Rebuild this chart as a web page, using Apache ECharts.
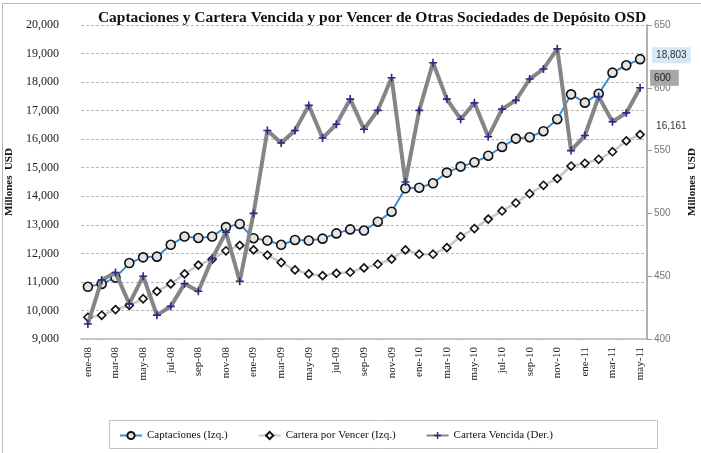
<!DOCTYPE html>
<html>
<head>
<meta charset="utf-8">
<script src="https://cdn.jsdelivr.net/npm/echarts@6/dist/echarts.min.js"></script>
<style>
  html, body { margin: 0; padding: 0; background: #fff; }
  #chart { width: 701px; height: 453px; }
</style>
</head>
<body>
<div id="chart"></div>
<script>
const months = ['ene', 'feb', 'mar', 'abr', 'may', 'jun', 'jul', 'ago', 'sep', 'oct', 'nov', 'dic'];
const years = ['08', '09', '10', '11'];
const categories = [];
years.forEach(y => months.forEach(m => categories.push(m + '-' + y)));
categories.length = 41; // ene-08 .. may-11

const captaciones = [10830, 10930, 11150, 11660, 11860, 11885, 12300, 12590, 12540, 12590, 12920, 13030,
  12530, 12450, 12300, 12470, 12450, 12515, 12700, 12840, 12800, 13110, 13460, 14280,
  14300, 14455, 14830, 15040, 15190, 15420, 15730, 16020, 16070, 16280, 16700, 17570,
  17280, 17590, 18330, 18590, 18803];
const porVencer = [9760, 9830, 10030, 10180, 10410, 10670, 10930, 11280, 11590, 11790, 12090, 12280,
  12120, 11940, 11680, 11420, 11280, 11220, 11300, 11340, 11490, 11620, 11800, 12120,
  11970, 11970, 12200, 12590, 12870, 13200, 13485, 13765, 14090, 14385, 14620, 15060,
  15155, 15295, 15560, 15940, 16161];
const vencida = [412, 447, 453, 428, 450, 419, 426, 444, 438, 464, 485, 446,
  500, 566, 556, 566, 586, 560, 571, 591, 567, 582, 608, 525,
  582, 620, 591, 575, 588, 561, 583, 590, 607, 615, 631, 550,
  562, 593, 573, 580, 600];

const serif = '"Liberation Serif", "Times New Roman", serif';
const sans = '"Liberation Sans", Arial, sans-serif';
const plus = 'path://M4,0H6V4H10V6H6V10H4V6H0V4H4Z';
const fmt = v => Number(v).toLocaleString('en-US');

const chart = echarts.init(document.getElementById('chart'));
chart.setOption({
  animation: false,
  title: {
    text: 'Captaciones y Cartera Vencida y por Vencer de Otras Sociedades de Depósito OSD',
    left: 367, textAlign: 'center', top: 5,
    textStyle: { fontFamily: serif, fontSize: 15.5, fontWeight: 'bold', color: '#111' }
  },
  graphic: [{
    type: 'rect', left: 0, top: 1, silent: true,
    shape: { width: 699, height: 451 },
    style: { fill: 'none', stroke: '#b8b8b8', lineWidth: 1 }
  }, {
    type: 'rect', left: 107, top: 418,
    shape: { width: 548, height: 28 },
    style: { fill: 'none', stroke: '#c4c4c4', lineWidth: 1 }
  }],
  legend: {
    left: 114, top: 425, itemWidth: 22, itemHeight: 9, itemGap: 30,
    textStyle: { fontFamily: serif, fontSize: 11, color: '#111' },
    data: ['Captaciones (Izq.)', 'Cartera por Vencer (Izq.)', 'Cartera Vencida (Der.)']
  },
  grid: { left: 81, right: 54, top: 25, bottom: 114, outerBoundsMode: 'none' },
  xAxis: {
    type: 'category', data: categories, boundaryGap: true,
    axisLine: { lineStyle: { color: '#b4bcc4', width: 1.5 } },
    axisTick: { interval: 1, length: 5, lineStyle: { color: '#b4bcc4' } },
    axisLabel: { interval: 1, rotate: 90, margin: 8, fontFamily: serif, fontSize: 11, color: '#222' }
  },
  yAxis: [{
    type: 'value', min: 9000, max: 20000, interval: 1000,
    name: 'Millones  USD', nameLocation: 'middle', nameGap: 60, nameRotate: 90,
    nameTextStyle: { fontFamily: serif, fontSize: 11, fontWeight: 'bold', color: '#111' },
    axisLine: { show: false }, axisTick: { show: false },
    axisLabel: { margin: 22, fontFamily: serif, fontSize: 12, color: '#222', formatter: fmt },
    splitLine: { lineStyle: { color: '#b8b8b8', type: [3, 2] } }
  }, {
    type: 'value', min: 400, max: 650, interval: 50, position: 'right',
    name: 'Millones  USD', nameLocation: 'middle', nameGap: 40, nameRotate: 90,
    nameTextStyle: { fontFamily: serif, fontSize: 11, fontWeight: 'bold', color: '#111',
      verticalAlign: 'top' },
    axisLine: { show: true, lineStyle: { color: '#999', width: 1.5 } },
    axisTick: { show: true, length: 5, lineStyle: { color: '#999' } },
    axisLabel: { margin: 7, fontFamily: sans, fontSize: 10, color: '#777' },
    splitLine: { show: false }
  }],
  series: [{
    name: 'Captaciones (Izq.)', type: 'line', data: captaciones, yAxisIndex: 0, z: 3,
    symbol: 'circle', symbolSize: 9, showAllSymbol: true,
    lineStyle: { color: '#3d8bd8', width: 2 },
    itemStyle: { color: '#e4e4e4', borderColor: '#111', borderWidth: 1.6 },
    endLabel: {
      show: true, formatter: p => fmt(p.value), offset: [4, -4],
      fontFamily: sans, fontSize: 10, color: '#333',
      backgroundColor: '#d8e7f5', padding: [3, 4]
    }
  }, {
    name: 'Cartera por Vencer (Izq.)', type: 'line', data: porVencer, yAxisIndex: 0, z: 2,
    symbol: 'diamond', symbolSize: 8, showAllSymbol: true,
    lineStyle: { color: '#c8c8c8', width: 2.5 },
    itemStyle: { color: '#fff', borderColor: '#111', borderWidth: 1.6 },
    endLabel: {
      show: true, formatter: p => fmt(p.value), offset: [8, -8],
      fontFamily: sans, fontSize: 10, color: '#333'
    }
  }, {
    name: 'Cartera Vencida (Der.)', type: 'line', data: vencida, yAxisIndex: 1, z: 4,
    symbol: plus, symbolSize: 8, showAllSymbol: true,
    lineStyle: { color: '#858585', width: 4 },
    itemStyle: { color: '#2a2a8c' },
    endLabel: {
      show: true, formatter: p => fmt(p.value), offset: [2, -10],
      fontFamily: sans, fontSize: 10, color: '#222',
      backgroundColor: '#a8a8a8', padding: [3, 8, 3, 4]
    }
  }]
});
</script>
</body>
</html>
